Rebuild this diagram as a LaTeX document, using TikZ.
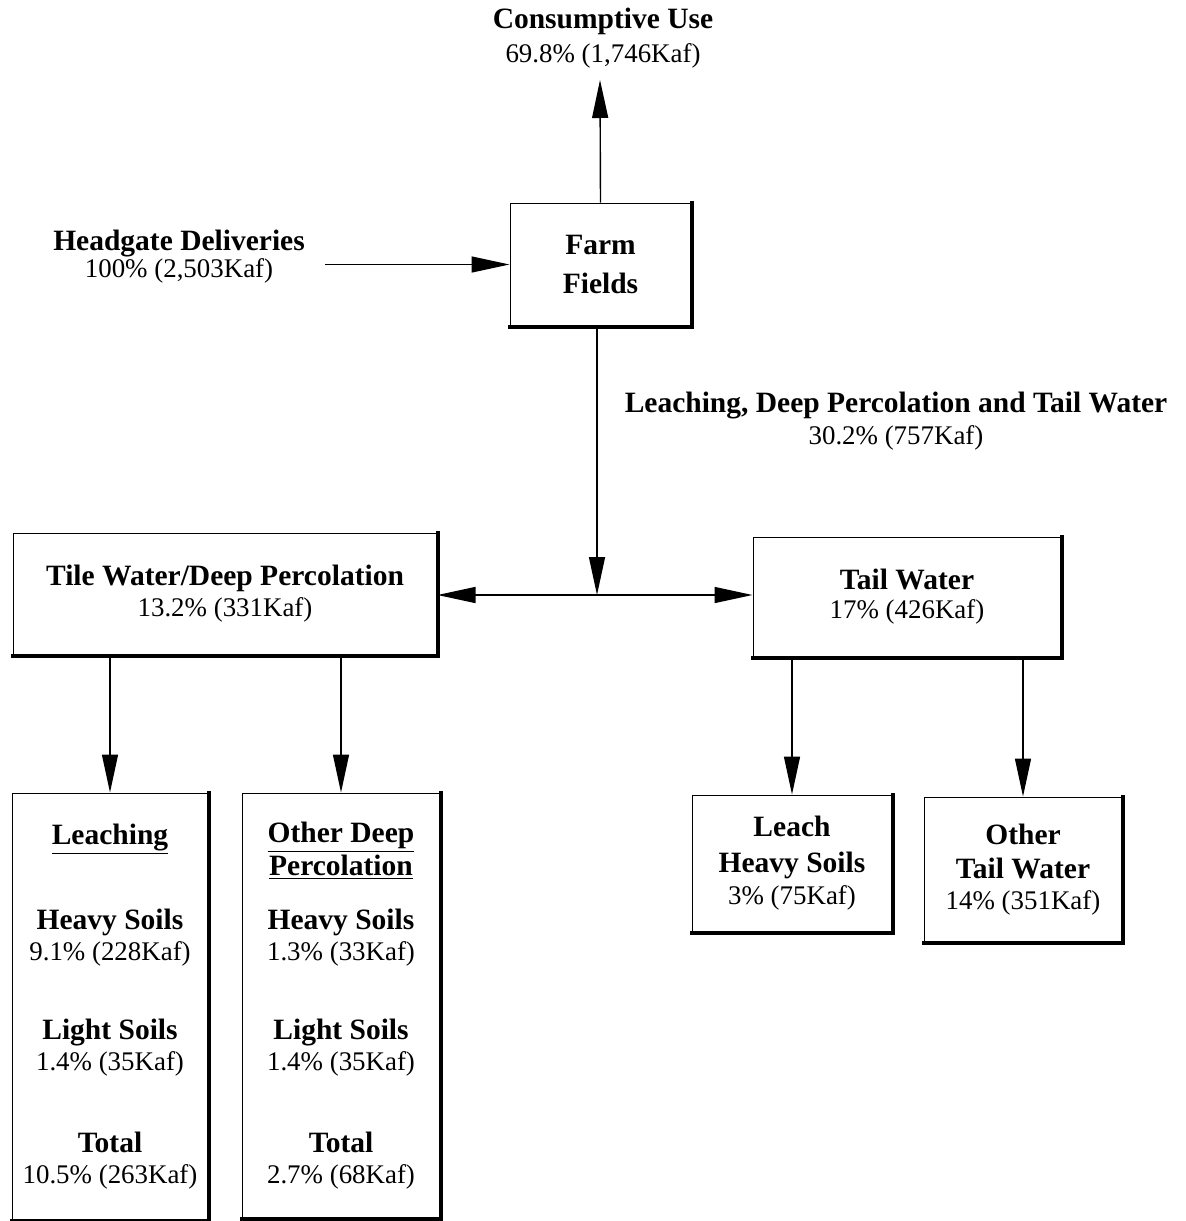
\documentclass[tikz,border=0pt]{standalone}
\usepackage{fontspec}
\setmainfont{Liberation Serif}
\usetikzlibrary{arrows.meta,calc}
\newcommand\bfl[1]{{\fontsize{14.75}{15.5}\selectfont\bfseries #1}}
\tikzset{
  every node/.style={font=\fontsize{13.45}{15.5}\selectfont, align=center},
  box/.style={draw, line width=0.5pt, inner sep=0pt, rectangle},
  lbl/.style={inner sep=0pt},
  arr/.style={line width=0.7pt, -{Triangle[length=19pt,width=8pt]}},
  shade/.style={line width=2pt, line cap=rect},
}
\begin{document}
\begin{tikzpicture}[x=0.5pt,y=-0.5pt]
\useasboundingbox (0,0) rectangle (1185,1221);
% labels
\node[lbl] (cu) at (603,38) {\bfl{Consumptive Use}\\[1.5pt]69.8\% (1,746Kaf)};
\node[lbl] (hd) at (179,257) {\bfl{Headgate Deliveries}\\[-2pt]100\% (2,503Kaf)};
\node[lbl] (ldp) at (896,421) {\bfl{Leaching, Deep Percolation and Tail Water}\\[0.5pt]30.2\% (757Kaf)};
% boxes
\node[box, minimum width=90.5pt, minimum height=61.5pt] (farm) at (600.5,264.5) {\bfl{Farm}\\[4pt]\bfl{Fields}};
\node[box, minimum width=212pt, minimum height=61pt] (tile) at (225,594) {\bfl{Tile Water/Deep Percolation}\\[0pt]13.2\% (331Kaf)};
\node[box, minimum width=154pt, minimum height=60pt] (tail) at (907,597) {\bfl{Tail Water}\\[-1pt]17\% (426Kaf)};
\node[box, minimum width=98pt, minimum height=213.5pt] (leach) at (110,1006.5)
  {\bfl{\underline{Leaching}}\\[27pt]\bfl{Heavy Soils}\\9.1\% (228Kaf)\\[24pt]\bfl{Light Soils}\\1.4\% (35Kaf)\\[25.5pt]\bfl{Total}\\10.5\% (263Kaf)};
\node[box, minimum width=99pt, minimum height=212.5pt] (odp) at (341,1005.5)
  {\bfl{\underline{Other Deep}}\\[1pt]\bfl{\underline{Percolation}}\\[11.5pt]\bfl{Heavy Soils}\\1.3\% (33Kaf)\\[24pt]\bfl{Light Soils}\\1.4\% (35Kaf)\\[25.5pt]\bfl{Total}\\2.7\% (68Kaf)};
\node[box, minimum width=100pt, minimum height=68.5pt] (lhs) at (792,863.5) {\bfl{Leach}\\[2.5pt]\bfl{Heavy Soils}\\[0.5pt]3\% (75Kaf)};
\node[box, minimum width=99pt, minimum height=72.5pt] (otw) at (1023,869.5) {\bfl{Other}\\[1.5pt]\bfl{Tail Water}\\14\% (351Kaf)};
% heavy right/bottom edges
\foreach \n in {farm,tile,tail,leach,odp,lhs,otw}
  \draw[shade] (\n.north east) -- (\n.south east) -- (\n.south west);
% connectors
\coordinate (hdend) at (325,264.5);
\coordinate (cutip) at (600,80);
\coordinate (j) at (597,595);
\draw[arr] (hdend) -- (farm.west);
\draw[arr] (farm.north) -- (cutip);
\draw[arr] (farm.south -| j) -- (j);
\draw[arr] (j) -- (j -| tile.east);
\draw[arr] (j) -- (j -| tail.west);
\draw[arr] (tile.south -| leach.north) -- (leach.north);
\draw[arr] (tile.south -| odp.north) -- (odp.north);
\draw[arr] (tail.south -| lhs.north) -- (lhs.north);
\draw[arr] (tail.south -| otw.north) -- (otw.north);
\end{tikzpicture}
\end{document}
